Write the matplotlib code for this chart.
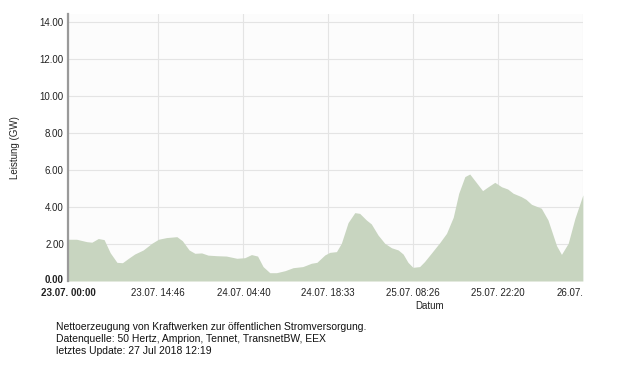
import numpy as np
import matplotlib
matplotlib.use('Agg')
import matplotlib.pyplot as plt
import matplotlib as mpl
import matplotlib.transforms as mtransforms

# hours since 23.07. 00:00 and net generation in GW
hours = [0.0, 1.4, 3.05, 3.9, 4.95, 5.9, 6.9, 8.0, 8.9, 9.85, 10.9, 12.3, 13.7,
         14.8, 16.1, 17.8, 18.7, 19.8, 20.75, 21.85, 22.9, 24.3, 25.9, 27.6,
         28.9, 30.0, 31.0, 31.9, 33.0, 34.1, 35.5, 36.8, 38.4, 39.8, 40.7,
         42.0, 42.8, 43.9, 44.7, 45.8, 46.9, 47.7, 48.8, 49.6, 50.7, 51.8,
         52.9, 54.0, 54.8, 55.6, 56.4, 57.5, 58.3, 59.4, 60.8, 61.9, 63.0,
         63.9, 64.9, 65.7, 66.8, 67.8, 68.7, 69.8, 70.9, 71.9, 72.8, 74.1,
         74.9, 75.8, 77.4, 78.5, 79.9, 80.7, 81.8, 82.9, 84.2]
leistung = [2.26, 2.26, 2.13, 2.10, 2.30, 2.24, 1.53, 1.01, 0.99, 1.22, 1.46,
            1.68, 2.04, 2.26, 2.35, 2.40, 2.18, 1.68, 1.50, 1.52, 1.40, 1.37,
            1.35, 1.23, 1.26, 1.43, 1.35, 0.78, 0.45, 0.45, 0.56, 0.72, 0.78,
            0.96, 1.01, 1.41, 1.55, 1.59, 2.04, 3.16, 3.70, 3.66, 3.30, 3.09,
            2.49, 2.04, 1.80, 1.68, 1.46, 1.01, 0.74, 0.78, 1.05, 1.50, 2.08,
            2.58, 3.45, 4.75, 5.65, 5.79, 5.32, 4.89, 5.10, 5.34, 5.10, 4.98,
            4.75, 4.57, 4.42, 4.15, 3.94, 3.30, 1.91, 1.44, 2.04, 3.39, 4.66]

tick_hours = [0.0, 14.77, 28.67, 42.55, 56.43, 70.33, 84.22]
tick_labels = ['23.07. 00:00', '23.07. 14:46', '24.07. 04:40', '24.07. 18:33',
               '25.07. 08:26', '25.07. 22:20', '26.07.']
y_ticks = [0, 2, 4, 6, 8, 10, 12, 14]

note = ('Nettoerzeugung von Kraftwerken zur öffentlichen Stromversorgung.\n'
        'Datenquelle: 50 Hertz, Amprion, Tennet, TransnetBW, EEX\n'
        'letztes Update: 27 Jul 2018 12:19')

mpl.rcParams['font.family'] = ['Liberation Sans', 'DejaVu Sans']

fig = plt.figure(figsize=(6.2, 3.72), dpi=100)
ax = fig.add_axes([0.1097, 0.2446, 0.8306, 0.7177])
ax.set_facecolor('#fcfcfc')

ax.fill_between(hours, leistung, 0, color='#c8d5c0', linewidth=0)

ax.set_xlim(0, tick_hours[-1])
ax.set_ylim(0, 14.45)
ax.set_yticks(y_ticks)
ax.set_yticklabels(['%.2f' % v for v in y_ticks], fontsize=7, color='#222222')
ax.set_xticks(tick_hours)
ax.set_xticklabels(tick_labels, fontsize=7, color='#222222')
ax.tick_params(length=0)
ax.tick_params(axis='x', pad=5)
ax.tick_params(axis='y', pad=3)

# bold first labels, nudge "0.00" up a little, last x label right-aligned
y0 = ax.get_yticklabels()[0]
y0.set_fontweight('bold')
y0.set_transform(y0.get_transform() +
                 mtransforms.ScaledTranslation(0, 2.5 / 100, fig.dpi_scale_trans))
ax.get_xticklabels()[0].set_fontweight('bold')
ax.get_xticklabels()[-1].set_horizontalalignment('right')

ax.grid(True, color='#e4e4e4', linewidth=0.8)
ax.set_axisbelow(True)
for s in ['top', 'right', 'bottom']:
    ax.spines[s].set_visible(False)
ax.spines['left'].set_color('#9a9a9a')
ax.spines['left'].set_linewidth(1.6)

ax.set_ylabel('Leistung (GW)', fontsize=7, color='#222222', labelpad=14)
fig.text(430 / 620, 1 - 306 / 372, 'Datum', fontsize=7, color='#222222',
         ha='center', va='center')
fig.text(56 / 620, 1 - 321.5 / 372, note, fontsize=7.5, color='#111111',
         ha='left', va='top', linespacing=1.3)

fig.savefig('out.png', dpi=100, facecolor='white')
